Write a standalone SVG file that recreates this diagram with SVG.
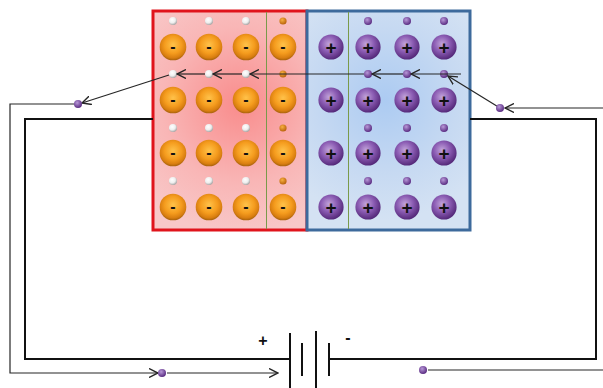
<svg xmlns="http://www.w3.org/2000/svg" xmlns:xlink="http://www.w3.org/1999/xlink" width="603" height="388" viewBox="0 0 603 388">
  <style>
    .wire { fill: none; stroke: #111; stroke-width: 2; }
    .flow { fill: none; stroke: #262626; stroke-width: 1.2; }
    .sign { font-family: "Liberation Sans", Arial, sans-serif; font-weight: bold; fill: #111; text-anchor: middle; }
    .divider { stroke: #7a9a4a; stroke-width: 1; }
  </style>
  <defs>
    <radialGradient id="pFill" cx="240" cy="105" r="130" gradientUnits="userSpaceOnUse">
      <stop offset="0" stop-color="#f98c8c"/>
      <stop offset="0.6" stop-color="#f9b6b6"/>
      <stop offset="1" stop-color="#f8c8c8"/>
    </radialGradient>
    <radialGradient id="nFill" cx="385" cy="100" r="120" gradientUnits="userSpaceOnUse">
      <stop offset="0" stop-color="#accbf2"/>
      <stop offset="0.6" stop-color="#c6d9f2"/>
      <stop offset="1" stop-color="#d4e2f3"/>
    </radialGradient>
    <radialGradient id="orangeBall" cx="50%" cy="42%" r="58%">
      <stop offset="0" stop-color="#ffc24a"/>
      <stop offset="0.55" stop-color="#f59c1e"/>
      <stop offset="0.85" stop-color="#d97e10"/>
      <stop offset="1" stop-color="#a8620c"/>
    </radialGradient>
    <radialGradient id="purpleBall" cx="42%" cy="38%" r="62%">
      <stop offset="0" stop-color="#c2a4da"/>
      <stop offset="0.5" stop-color="#8c5db4"/>
      <stop offset="1" stop-color="#55297a"/>
    </radialGradient>
    <radialGradient id="whiteDot" cx="40%" cy="35%" r="65%">
      <stop offset="0" stop-color="#ffffff"/>
      <stop offset="0.6" stop-color="#eeeeee"/>
      <stop offset="1" stop-color="#a8a8a8"/>
    </radialGradient>
    <radialGradient id="smallOrange" cx="40%" cy="35%" r="65%">
      <stop offset="0" stop-color="#f8b040"/>
      <stop offset="1" stop-color="#b8620a"/>
    </radialGradient>
    <radialGradient id="smallPurple" cx="40%" cy="35%" r="65%">
      <stop offset="0" stop-color="#b898d8"/>
      <stop offset="1" stop-color="#5a2c82"/>
    </radialGradient>
    <marker id="open" viewBox="0 0 10 10" refX="9" refY="5" markerWidth="10" markerHeight="10" markerUnits="userSpaceOnUse" orient="auto">
      <path d="M0,0.5 L9,5 L0,9.5" fill="none" stroke="#262626" stroke-width="1.4"/>
    </marker>
    <g id="acceptor">
      <circle r="13.3" fill="url(#orangeBall)"/>
    </g>
    <g id="donor">
      <circle r="12.6" fill="url(#purpleBall)"/>
    </g>
    <circle id="hole" r="4" fill="url(#whiteDot)"/>
    <circle id="hole4" r="3.6" fill="url(#smallOrange)"/>
    <circle id="electron" r="4" fill="url(#smallPurple)"/>
  </defs>

  <rect width="603" height="388" fill="#ffffff"/>

  <!-- p-type region -->
  <g id="p-region">
    <rect x="153" y="11" width="154" height="219" fill="url(#pFill)" stroke="#e0141c" stroke-width="3"/>
    <line class="divider" x1="266.5" y1="12" x2="266.5" y2="229"/>
  </g>

  <!-- n-type region -->
  <g id="n-region">
    <rect x="307" y="11" width="163" height="219" fill="url(#nFill)" stroke="#3d6a9c" stroke-width="3"/>
    <line class="divider" x1="348.5" y1="12" x2="348.5" y2="229"/>
  </g>

  <!-- acceptor ions with holes -->
  <g id="acceptors">
    <use href="#hole" x="173" y="21"/><use href="#hole" x="209" y="21"/><use href="#hole" x="246" y="21"/><use href="#hole4" x="283" y="21"/>
    <use href="#hole" x="173" y="74"/><use href="#hole" x="209" y="74"/><use href="#hole" x="246" y="74"/><use href="#hole4" x="283" y="74"/>
    <use href="#hole" x="173" y="128"/><use href="#hole" x="209" y="128"/><use href="#hole" x="246" y="128"/><use href="#hole4" x="283" y="128"/>
    <use href="#hole" x="173" y="181"/><use href="#hole" x="209" y="181"/><use href="#hole" x="246" y="181"/><use href="#hole4" x="283" y="181"/>

    <use href="#acceptor" x="173" y="47"/><use href="#acceptor" x="209" y="47"/><use href="#acceptor" x="246" y="47"/><use href="#acceptor" x="283" y="47"/>
    <use href="#acceptor" x="173" y="100"/><use href="#acceptor" x="209" y="100"/><use href="#acceptor" x="246" y="100"/><use href="#acceptor" x="283" y="100"/>
    <use href="#acceptor" x="173" y="153"/><use href="#acceptor" x="209" y="153"/><use href="#acceptor" x="246" y="153"/><use href="#acceptor" x="283" y="153"/>
    <use href="#acceptor" x="173" y="207"/><use href="#acceptor" x="209" y="207"/><use href="#acceptor" x="246" y="207"/><use href="#acceptor" x="283" y="207"/>

    <g class="sign" font-size="16">
      <text x="173" y="52">-</text><text x="209" y="52">-</text><text x="246" y="52">-</text><text x="283" y="52">-</text>
      <text x="173" y="105">-</text><text x="209" y="105">-</text><text x="246" y="105">-</text><text x="283" y="105">-</text>
      <text x="173" y="158">-</text><text x="209" y="158">-</text><text x="246" y="158">-</text><text x="283" y="158">-</text>
      <text x="173" y="212">-</text><text x="209" y="212">-</text><text x="246" y="212">-</text><text x="283" y="212">-</text>
    </g>
  </g>

  <!-- donor ions with free electrons -->
  <g id="donors">
    <use href="#electron" x="368" y="21"/><use href="#electron" x="407" y="21"/><use href="#electron" x="444" y="21"/>
    <use href="#electron" x="368" y="74"/><use href="#electron" x="407" y="74"/><use href="#electron" x="444" y="74"/>
    <use href="#electron" x="368" y="128"/><use href="#electron" x="407" y="128"/><use href="#electron" x="444" y="128"/>
    <use href="#electron" x="368" y="181"/><use href="#electron" x="407" y="181"/><use href="#electron" x="444" y="181"/>

    <use href="#donor" x="331" y="47"/><use href="#donor" x="368" y="47"/><use href="#donor" x="407" y="47"/><use href="#donor" x="444" y="47"/>
    <use href="#donor" x="331" y="100"/><use href="#donor" x="368" y="100"/><use href="#donor" x="407" y="100"/><use href="#donor" x="444" y="100"/>
    <use href="#donor" x="331" y="153"/><use href="#donor" x="368" y="153"/><use href="#donor" x="407" y="153"/><use href="#donor" x="444" y="153"/>
    <use href="#donor" x="331" y="207"/><use href="#donor" x="368" y="207"/><use href="#donor" x="407" y="207"/><use href="#donor" x="444" y="207"/>

    <g class="sign" font-size="19">
      <text x="331" y="53.5">+</text><text x="368" y="53.5">+</text><text x="407" y="53.5">+</text><text x="444" y="53.5">+</text>
      <text x="331" y="106.5">+</text><text x="368" y="106.5">+</text><text x="407" y="106.5">+</text><text x="444" y="106.5">+</text>
      <text x="331" y="159.5">+</text><text x="368" y="159.5">+</text><text x="407" y="159.5">+</text><text x="444" y="159.5">+</text>
      <text x="331" y="213.5">+</text><text x="368" y="213.5">+</text><text x="407" y="213.5">+</text><text x="444" y="213.5">+</text>
    </g>
  </g>

  <!-- external circuit and battery -->
  <g id="circuit">
    <polyline class="wire" points="153,119 25,119 25,359 290,359"/>
    <polyline class="wire" points="329,359 596,359 596,119 470,119"/>
    <g id="battery" stroke="#111" stroke-width="2">
      <line x1="290" y1="333" x2="290" y2="388"/>
      <line x1="302" y1="343" x2="302" y2="376"/>
      <line x1="316" y1="331" x2="316" y2="388"/>
      <line x1="329" y1="343" x2="329" y2="376"/>
    </g>
    <g class="sign" font-size="16">
      <text x="263" y="346">+</text>
      <text x="348" y="343">-</text>
    </g>
  </g>

  <!-- electron flow paths -->
  <g id="connectors">
    <line class="flow" x1="603" y1="108" x2="505" y2="108" marker-end="url(#open)"/>
    <line class="flow" x1="500" y1="108" x2="448" y2="76" marker-end="url(#open)"/>
    <line class="flow" x1="461" y1="74" x2="411" y2="74" marker-end="url(#open)"/>
    <line class="flow" x1="403" y1="74" x2="372" y2="74" marker-end="url(#open)"/>
    <line class="flow" x1="364" y1="74" x2="250" y2="74" marker-end="url(#open)"/>
    <line class="flow" x1="242" y1="74" x2="213" y2="74" marker-end="url(#open)"/>
    <line class="flow" x1="205" y1="74" x2="177" y2="74" marker-end="url(#open)"/>
    <line class="flow" x1="169" y1="75" x2="82" y2="103" marker-end="url(#open)"/>
    <polyline class="flow" points="78,104 10,104 10,373 158,373" marker-end="url(#open)"/>
    <line class="flow" x1="167" y1="373" x2="278" y2="373" marker-end="url(#open)"/>
    <line class="flow" x1="428" y1="370" x2="603" y2="370"/>
  </g>

  <!-- free electrons in the external circuit -->
  <g id="outer-electrons">
    <use href="#electron" x="78" y="104"/>
    <use href="#electron" x="500" y="108"/>
    <use href="#electron" x="162" y="373"/>
    <use href="#electron" x="423" y="370"/>
  </g>
</svg>
